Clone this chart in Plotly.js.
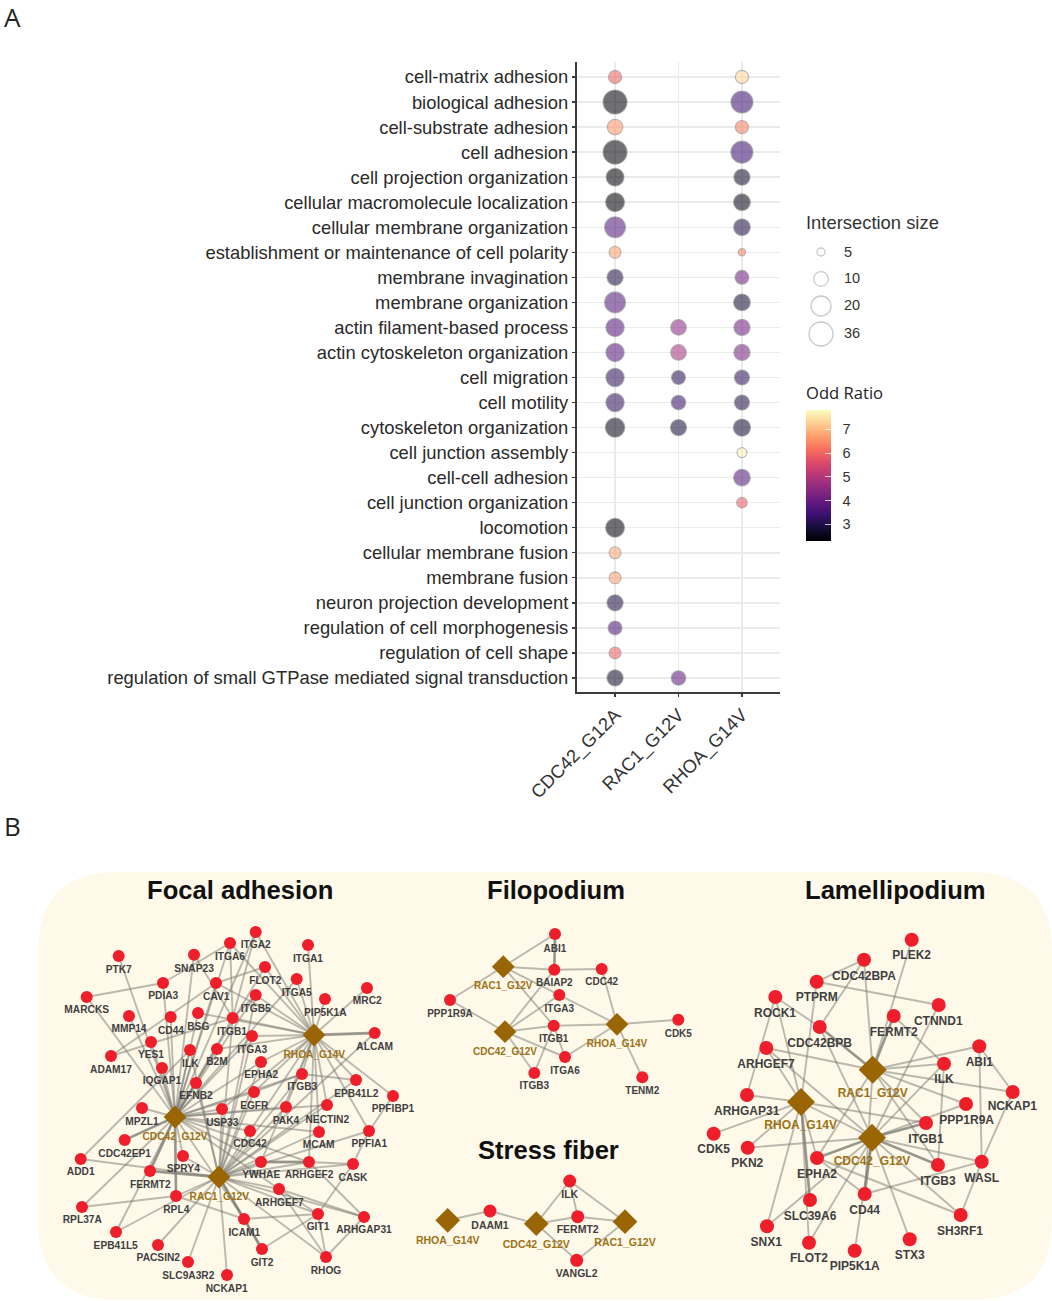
<!DOCTYPE html>
<html>
<head>
<meta charset="utf-8">
<script src="https://cdn.plot.ly/plotly-3.0.1.min.js"></script>
<style>html,body{margin:0;padding:0;background:#fff}#chart{width:1052px;height:1301px}</style>
</head>
<body>
<div id="chart"></div>
<script>
// ---------- Panel A data ----------
const terms = ["cell-matrix adhesion","biological adhesion","cell-substrate adhesion","cell adhesion","cell projection organization","cellular macromolecule localization","cellular membrane organization","establishment or maintenance of cell polarity","membrane invagination","membrane organization","actin filament-based process","actin cytoskeleton organization","cell migration","cell motility","cytoskeleton organization","cell junction assembly","cell-cell adhesion","cell junction organization","locomotion","cellular membrane fusion","membrane fusion","neuron projection development","regulation of cell morphogenesis","regulation of cell shape","regulation of small GTPase mediated signal transduction"];
const conditions = ["CDC42_G12A","RAC1_G12V","RHOA_G14V"];
const cdc42Size = [9,36,12,36,16,18,24,8,13,24,17,17,17,17,19,null,null,null,18,8,8,13,9.5,8,13];
const rac1Size  = [null,null,null,null,null,null,null,null,null,null,12,12,9.5,10,13,null,null,null,null,null,null,null,null,null,10];
const rhoaSize  = [9,28,9,28,13,14,14,4.5,9.5,14,13,13,11,11,15,6.5,14,7,null,null,null,null,null,null,null];
const cdc42Odds = [5.95,2.35,6.6,2.35,2.3,2.3,3.7,6.7,2.95,3.7,3.75,3.75,3.2,3.2,2.5,null,null,null,2.3,6.8,6.7,2.95,3.6,5.95,2.7];
const rac1Odds  = [null,null,null,null,null,null,null,null,null,null,4.5,4.8,3.1,3.3,2.85,null,null,null,null,null,null,null,null,null,3.85];
const rhoaOdds  = [7.4,3.4,6.3,3.4,2.75,2.5,2.95,6.4,4.1,2.8,4.1,4.2,3.2,3.0,2.75,7.7,3.7,5.85,null,null,null,null,null,null,null];
const legendSizes = [5,10,20,36];
const sizeAnchors = [5,10,20,36];
const diameterAnchors = [8,14.6,20,24];
const magma = [[0,"#000004"],[0.1,"#140e36"],[0.2,"#3b0f70"],[0.3,"#641a80"],[0.4,"#8c2981"],[0.5,"#b73779"],[0.6,"#de4968"],[0.7,"#f7705c"],[0.8,"#fe9f6d"],[0.9,"#fecf92"],[1,"#fcfdbf"]];
const oddTicks = [3,4,5,6,7];

// ---------- Panel B data: Focal adhesion ----------
const focalGenes = ["PTK7","SNAP23","MARCKS","PDIA3","CAV1","MMP14","CD44","BSG","YES1","ADAM17","ILK","B2M","IQGAP1","EFNB2","ITGB1","ITGA2","ITGA6","ITGA1","FLOT2","ITGA5","ITGB5","PIP5K1A","MRC2","ALCAM","ITGA3","EPHA2","ITGB3","EPB41L2","PPFIBP1","EGFR","PAK4","NECTIN2","CDC42","MCAM","PPFIA1","YWHAE","ARHGEF2","CASK","ARHGEF7","GIT1","ARHGAP31","ICAM1","GIT2","RHOG","NCKAP1","MPZL1","USP33","CDC42EP1","ADD1","SPRY4","FERMT2","RPL4","RPL37A","EPB41L5","PACSIN2","SLC9A3R2"];
const focalX = [118.7,194,86.7,163,216,129,170.7,198,151,111,190,217,162,196,232.7,255.7,230,308,265,296.7,255.7,325,367,374.7,252,261,302,356,393,254,286,327,250,319,369,261,309,353,279,318,364,244,262,326,227,142,222,124.7,80.7,183,150,176,82,116,158,188];
const focalY = [956,954.7,997,983,983,1016,1017,1013,1042,1056,1050,1049,1068,1083,1018,932,943,945,967,979,995,999,988,1033,1036,1062,1074,1080,1096,1092,1107,1105,1131,1132,1131,1162,1162,1164,1189,1214,1217,1219,1249,1257,1275,1108,1109,1140,1159,1156,1171,1196,1207,1232,1245,1262];
const focalLabelX = [118.7,194,86.7,163.3,216.3,129,171,198.3,151,111,190.3,217,162,196,232,255.7,230,308,265.3,296.7,255.7,325.3,367.3,374.7,252.3,261.3,302.3,356.3,393,254.3,286,327.3,250,318.7,369.3,261.3,309,353,279.3,318,364,244.3,262,326,226.7,142,222.3,124.7,80.7,183.3,150.3,176.3,82.3,115.7,158.3,188.3];
const focalLabelY = [970,969,1010.7,996.7,997.7,1029.7,1031.3,1027,1055.7,1070.3,1064,1062.7,1081.3,1096.7,1032,945.7,957.3,959.3,981,993.3,1009,1013,1001.7,1047.3,1050,1075.7,1087.7,1094,1109.7,1106,1121,1120,1144.3,1145.7,1144.3,1175.3,1175.3,1178,1203.3,1227.3,1230.7,1233.3,1263,1271,1289,1122,1123,1154.3,1172.3,1169.7,1185.3,1210.3,1220.3,1246,1258.7,1276];
const focalHubs = ["CDC42_G12V","RAC1_G12V","RHOA_G14V"];
const focalHubX = [175,219,314];
const focalHubY = [1117,1177,1035];
const focalHubLabelX = [175,219.3,314.3];
const focalHubLabelY = [1137.3,1197,1055.7];
const focalCdc42Links = ["PTK7","MARCKS","MMP14","CD44","BSG","YES1","ILK","B2M","IQGAP1","EFNB2","MPZL1","USP33","EGFR","EPHA2","ITGB1","ITGA3","ITGB5","CAV1","SNAP23","PDIA3","ITGA6","ITGA2","FLOT2","ITGA5","ITGB3","CDC42","PAK4","NECTIN2","MCAM","CDC42EP1","FERMT2","SPRY4","RPL4","RPL37A","EPB41L5","YWHAE","ARHGEF2","ARHGEF7","ICAM1"];
const focalRac1Links = ["ITGB3","EGFR","ITGB1","EPHA2","ITGA3","CDC42","YWHAE","ARHGEF2","ARHGEF7","CASK","GIT1","GIT2","ICAM1","ARHGAP31","RHOG","MCAM","PPFIA1","NECTIN2","PAK4","ITGB5","ILK","SPRY4","ALCAM","EPB41L2","RPL4","FERMT2","ADD1","EPB41L5","PACSIN2","SLC9A3R2","NCKAP1","USP33","EFNB2"];
const focalRhoaLinks = ["MRC2","ALCAM","PIP5K1A","ITGA1","ITGA5","FLOT2","ITGB5","ITGA3","ITGB1","EPHA2","ITGB3","EPB41L2","PPFIBP1","EGFR","PAK4","NECTIN2","MCAM","ITGA6","ITGA2","CAV1","BSG","B2M","YWHAE","ARHGEF2","CDC42","USP33","PPFIA1"];
const focalGeneLinks = [["MARCKS","PDIA3"],["PDIA3","ITGA6"],["ADD1","ILK"],["ADAM17","CAV1"],["ADAM17","ITGB1"],["RPL37A","RPL4"],["RPL4","ICAM1"],["ICAM1","GIT2"],["ICAM1","GIT1"],["GIT1","GIT2"],["GIT1","RHOG"],["ARHGAP31","RHOG"],["ARHGEF7","RHOG"],["ARHGEF7","GIT1"],["ARHGEF7","ARHGAP31"],["YWHAE","ARHGEF2"],["ARHGEF2","CASK"],["CASK","GIT1"],["CASK","PPFIA1"],["PPFIA1","PPFIBP1"],["ARHGEF2","ARHGAP31"],["ITGB3","EPB41L2"],["EGFR","ITGB3"],["ITGB1","ITGB5"],["ITGA6","ITGB1"],["ITGA2","ITGB1"],["CAV1","FLOT2"],["SNAP23","ITGB1"]];
const focalHeavy = [["RAC1_G12V","ICAM1"],["RAC1_G12V","FERMT2"],["CDC42_G12V","FERMT2"],["CDC42_G12V","RPL4"],["RHOA_G14V","ALCAM"],["ICAM1","GIT2"],["CDC42_G12V","CDC42EP1"],["YWHAE","ARHGEF2"]];

// ---------- Filopodium ----------
const filoGenes = ["ABI1","BAIAP2","CDC42","ITGA3","PPP1R9A","ITGB1","ITGA6","ITGB3","CDK5","TENM2"];
const filoX = [555,554.3,601.7,559.3,450,553.7,565,534.3,678.3,642.3];
const filoY = [934,969.7,969,995,1000,1025.7,1057,1073,1019.7,1077.3];
const filoLabelX = [555,554.3,601.7,559.3,450,553.7,565,534.3,678.3,642.3];
const filoLabelY = [949,983.3,982.7,1009.3,1014.7,1039.3,1071.7,1086.7,1034,1091.7];
const filoHubs = ["RAC1_G12V","CDC42_G12V","RHOA_G14V"];
const filoHubX = [503.3,505,617];
const filoHubY = [966.7,1031.7,1024.3];
const filoHubLabelX = [503.3,505,617];
const filoHubLabelY = [986.7,1052,1044.7];
const filoLinks = [["RAC1_G12V","ABI1"],["RAC1_G12V","BAIAP2"],["RAC1_G12V","ITGA3"],["RAC1_G12V","ITGB1"],["RAC1_G12V","PPP1R9A"],["ABI1","BAIAP2"],["BAIAP2","CDC42"],["BAIAP2","CDC42_G12V"],["CDC42","RHOA_G14V"],["ITGA3","RHOA_G14V"],["ITGA3","CDC42_G12V"],["ITGB1","CDC42_G12V"],["ITGB1","RHOA_G14V"],["ITGA6","CDC42_G12V"],["ITGA6","RHOA_G14V"],["ITGB1","ITGA6"],["CDC42_G12V","ITGB3"],["ITGB3","ITGB1"],["PPP1R9A","CDC42_G12V"],["CDK5","RHOA_G14V"],["TENM2","RHOA_G14V"]];
const filoHeavy = [["ABI1","BAIAP2"]];

// ---------- Stress fiber ----------
const stressGenes = ["ILK","DAAM1","FERMT2","VANGL2"];
const stressX = [569.7,490,577.7,576.7];
const stressY = [1181,1211,1216.7,1260.3];
const stressLabelX = [569.7,490,577.7,576.7];
const stressLabelY = [1195.7,1226,1230.7,1274.7];
const stressHubs = ["RHOA_G14V","CDC42_G12V","RAC1_G12V"];
const stressHubX = [447.7,536.3,625];
const stressHubY = [1220.3,1223.7,1221.7];
const stressHubLabelX = [447.7,536.3,625];
const stressHubLabelY = [1241.7,1245,1243.7];
const stressLinks = [["RHOA_G14V","DAAM1"],["DAAM1","CDC42_G12V"],["CDC42_G12V","ILK"],["CDC42_G12V","FERMT2"],["CDC42_G12V","VANGL2"],["ILK","FERMT2"],["ILK","RAC1_G12V"],["FERMT2","RAC1_G12V"],["VANGL2","RAC1_G12V"]];

// ---------- Lamellipodium ----------
const lamGenes = ["PLEK2","CDC42BPA","PTPRM","ROCK1","CTNND1","FERMT2","CDC42BPB","ARHGEF7","ABI1","ILK","NCKAP1","ARHGAP31","PPP1R9A","CDK5","PKN2","ITGB1","EPHA2","ITGB3","WASL","CD44","SLC39A6","SH3RF1","SNX1","STX3","FLOT2","PIP5K1A"];
const lamX = [911.7,864,816.7,775.3,938.7,893.7,819.7,766.3,979.3,944,1012.7,747,966,713.7,747.7,926,817,938,981.7,864.7,810,960.7,767,909.7,809,854.7];
const lamY = [939.7,959.7,981.7,997,1005,1016,1027,1048,1046.3,1063.7,1092,1095,1104,1133.7,1147.7,1123,1158,1165,1161.7,1194,1200,1215,1226.3,1239.3,1242.7,1250.7];
const lamLabelX = [911.7,864,816.7,775,938.3,893.7,819.7,766,979.3,944,1012.3,746.7,966.7,713.7,747.3,926,817,938,981.7,864.7,810,960,766.3,909.7,809,854.7];
const lamLabelY = [956,976.7,998.3,1013.7,1021.7,1032.7,1044,1065,1063.3,1080.3,1106.7,1112,1120.7,1150.3,1164.3,1140,1174.7,1181.7,1178.7,1210.7,1217.3,1232,1243.3,1256,1259.3,1267.3];
const lamHubs = ["RAC1_G12V","RHOA_G14V","CDC42_G12V"];
const lamHubX = [872.7,801,872];
const lamHubY = [1069.7,1102,1137.7];
const lamHubLabelX = [872.7,800.7,872];
const lamHubLabelY = [1093.7,1126,1162];
const lamLinks = [["RAC1_G12V","CDC42BPA"],["RAC1_G12V","PLEK2"],["RAC1_G12V","FERMT2"],["RAC1_G12V","ABI1"],["RAC1_G12V","ILK"],["RAC1_G12V","NCKAP1"],["RAC1_G12V","ARHGEF7"],["RAC1_G12V","CDC42BPB"],["RAC1_G12V","PPP1R9A"],["RAC1_G12V","ITGB1"],["RAC1_G12V","EPHA2"],["RAC1_G12V","ITGB3"],["RAC1_G12V","CD44"],["CDC42BPA","CDC42BPB"],["CDC42BPA","PTPRM"],["PTPRM","CTNND1"],["PTPRM","RHOA_G14V"],["ROCK1","ARHGAP31"],["ROCK1","RHOA_G14V"],["ROCK1","CDC42BPB"],["ARHGEF7","CDC42_G12V"],["ARHGEF7","RHOA_G14V"],["CDC42BPB","CDC42_G12V"],["FERMT2","ILK"],["CTNND1","CDC42_G12V"],["ABI1","NCKAP1"],["ABI1","WASL"],["ILK","CDC42_G12V"],["ILK","ITGB3"],["NCKAP1","WASL"],["PPP1R9A","CDC42_G12V"],["ITGB1","CDC42_G12V"],["ITGB1","RHOA_G14V"],["ARHGAP31","RHOA_G14V"],["CDK5","RHOA_G14V"],["PKN2","RHOA_G14V"],["PKN2","CDC42_G12V"],["SNX1","RHOA_G14V"],["SLC39A6","RHOA_G14V"],["FLOT2","RHOA_G14V"],["EPHA2","RHOA_G14V"],["EPHA2","CDC42_G12V"],["CD44","CDC42_G12V"],["CD44","EPHA2"],["CD44","WASL"],["FLOT2","CDC42_G12V"],["SNX1","CDC42_G12V"],["PIP5K1A","CDC42_G12V"],["STX3","CDC42_G12V"],["SH3RF1","CDC42_G12V"],["SH3RF1","WASL"],["ITGB3","CDC42_G12V"],["WASL","CDC42_G12V"],["SH3RF1","EPHA2"],["RHOA_G14V","CDC42_G12V"]];
const lamHeavy = [["RAC1_G12V","CDC42BPB"],["RAC1_G12V","FERMT2"],["EPHA2","CDC42_G12V"],["ITGB3","CDC42_G12V"],["ITGB1","CDC42_G12V"],["CD44","CDC42_G12V"],["SLC39A6","RHOA_G14V"]];

// ---------- Build ----------
const W = 1052, H = 1301;
const HUB = "#9a6505", RED = "#ee1f2a", EDGE = "rgba(125,125,117,0.52)", EDGE2 = "rgba(125,125,117,0.6)";
const LABEL_FONT = "Liberation Sans, Arial, sans-serif";

function sizeToDiameter(v){
  for(let i=1;i<sizeAnchors.length;i++){
    if(v<=sizeAnchors[i]){
      const t=(v-sizeAnchors[i-1])/(sizeAnchors[i]-sizeAnchors[i-1]);
      return diameterAnchors[i-1]+t*(diameterAnchors[i]-diameterAnchors[i-1]);
    }
  }
  return diameterAnchors[diameterAnchors.length-1];
}
function columnTrace(cond,sizes,odds){
  const keep = terms.map((_,i)=>i).filter(i=>sizes[i]!==null);
  return {type:"scatter",mode:"markers",xaxis:"x",yaxis:"y",
    x:keep.map(()=>cond),y:keep.map(i=>terms[i]),cliponaxis:false,
    marker:{size:keep.map(i=>sizeToDiameter(sizes[i])),sizemode:"diameter",color:keep.map(i=>odds[i]),coloraxis:"coloraxis",opacity:0.56,line:{color:"rgba(90,90,90,0.7)",width:1.1}}};
}
function networkTraces(cfg){
  const pos = {};
  cfg.genes.forEach((g,i)=>pos[g]=[cfg.x[i],cfg.y[i]]);
  cfg.hubs.forEach((g,i)=>pos[g]=[cfg.hubX[i],cfg.hubY[i]]);
  const seg = list => {const xs=[],ys=[];list.forEach(([a,b])=>{xs.push(pos[a][0],pos[b][0],null);ys.push(pos[a][1],pos[b][1],null);});return [xs,ys];};
  const [ex,ey]=seg(cfg.links), [hx,hy]=seg(cfg.heavy||[]);
  const base={type:"scatter",xaxis:"x2",yaxis:"y2",cliponaxis:false};
  return [
    {...base,mode:"lines",x:ex,y:ey,line:{color:EDGE,width:1.9}},
    {...base,mode:"lines",x:hx,y:hy,line:{color:EDGE2,width:2.8}},
    {...base,mode:"markers",x:cfg.x,y:cfg.y,marker:{symbol:"circle",size:cfg.nodeSize,color:RED}},
    {...base,mode:"markers",x:cfg.hubX,y:cfg.hubY,marker:{symbol:"diamond",size:cfg.hubSize,color:HUB}},
    {...base,mode:"text",x:cfg.labelX,y:cfg.labelY,text:cfg.genes,textposition:"middle center",textfont:{family:LABEL_FONT,size:cfg.font,color:"#3f3f3f",weight:700}},
    {...base,mode:"text",x:cfg.hubLabelX,y:cfg.hubLabelY,text:cfg.hubs,textposition:"middle center",textfont:{family:LABEL_FONT,size:cfg.font,color:"#9c7216",weight:700}}
  ];
}
function hubLinks(hub,list){return list.map(g=>[hub,g]);}

const traces = [
  columnTrace(conditions[0],cdc42Size,cdc42Odds),
  columnTrace(conditions[1],rac1Size,rac1Odds),
  columnTrace(conditions[2],rhoaSize,rhoaOdds),
  {type:"scatter",mode:"markers",xaxis:"x2",yaxis:"y2",x:[821,821,821,821],y:[252,279,306,334],
    marker:{size:legendSizes.map(sizeToDiameter),color:"rgba(255,255,255,0)",line:{color:"#b5b5b5",width:1.3}}},
  {type:"scatter",mode:"text",xaxis:"x2",yaxis:"y2",x:[844,844,844,844],y:[253,279.5,306,334],text:legendSizes.map(String),textposition:"middle right",textfont:{family:LABEL_FONT,size:14.5,color:"#333"},cliponaxis:false},
  ...networkTraces({genes:focalGenes,x:focalX,y:focalY,labelX:focalLabelX,labelY:focalLabelY,hubs:focalHubs,hubX:focalHubX,hubY:focalHubY,hubLabelX:focalHubLabelX,hubLabelY:focalHubLabelY,
    links:[...hubLinks("CDC42_G12V",focalCdc42Links),...hubLinks("RAC1_G12V",focalRac1Links),...hubLinks("RHOA_G14V",focalRhoaLinks),...focalGeneLinks],heavy:focalHeavy,nodeSize:12,hubSize:17.5,font:10.2}),
  ...networkTraces({genes:filoGenes,x:filoX,y:filoY,labelX:filoLabelX,labelY:filoLabelY,hubs:filoHubs,hubX:filoHubX,hubY:filoHubY,hubLabelX:filoHubLabelX,hubLabelY:filoHubLabelY,
    links:filoLinks,heavy:filoHeavy,nodeSize:12,hubSize:17.5,font:10}),
  ...networkTraces({genes:stressGenes,x:stressX,y:stressY,labelX:stressLabelX,labelY:stressLabelY,hubs:stressHubs,hubX:stressHubX,hubY:stressHubY,hubLabelX:stressHubLabelX,hubLabelY:stressHubLabelY,
    links:stressLinks,heavy:[],nodeSize:13,hubSize:19,font:10.5}),
  ...networkTraces({genes:lamGenes,x:lamX,y:lamY,labelX:lamLabelX,labelY:lamLabelY,hubs:lamHubs,hubX:lamHubX,hubY:lamHubY,hubLabelX:lamHubLabelX,hubLabelY:lamHubLabelY,
    links:lamLinks,heavy:lamHeavy,nodeSize:14,hubSize:21.5,font:12})
];

function note(text,x,y,font,anchor){
  return {text:text,x:x,y:y,xref:"x2",yref:"y2",showarrow:false,xanchor:anchor||"center",yanchor:"middle",font:font};
}
const layout = {
  width:W,height:H,autosize:false,showlegend:false,hovermode:false,
  margin:{l:0,r:0,t:0,b:0,pad:0},paper_bgcolor:"#fff",plot_bgcolor:"rgba(0,0,0,0)",
  font:{family:LABEL_FONT,color:"#333"},
  xaxis:{domain:[577/W,780/W],anchor:"y",type:"category",categoryorder:"array",categoryarray:conditions,range:[-0.6,2.6],
    showgrid:true,gridcolor:"#ebebeb",gridwidth:1.5,zeroline:false,showline:true,linecolor:"#3c3c3c",linewidth:2,
    ticks:"outside",ticklen:3,tickwidth:1.3,tickcolor:"#3c3c3c",tickangle:-45,tickfont:{size:18.4,color:"#333",family:LABEL_FONT}},
  yaxis:{domain:[1-692/H,1-62/H],anchor:"x",type:"category",categoryorder:"array",categoryarray:terms,range:[24.56,-0.6],
    showgrid:true,gridcolor:"#ebebeb",gridwidth:1.5,zeroline:false,showline:true,linecolor:"#3c3c3c",linewidth:2,
    ticks:"outside",ticklen:3,tickwidth:1.3,tickcolor:"#3c3c3c",tickfont:{size:18.4,color:"#2a2a2a",family:LABEL_FONT}},
  xaxis2:{domain:[0,1],anchor:"y2",range:[0,W],visible:false,fixedrange:true},
  yaxis2:{domain:[0,1],anchor:"x2",range:[H,0],visible:false,fixedrange:true},
  coloraxis:{colorscale:magma,cmin:2.29,cmax:7.82,
    colorbar:{thickness:25,thicknessmode:"pixels",len:131,lenmode:"pixels",x:806/W,xanchor:"left",xpad:0,
      y:1-541/H,yanchor:"bottom",ypad:0,outlinewidth:0,ticks:"inside",ticklen:6,tickcolor:"rgba(255,255,255,0.75)",tickwidth:1,
      tickvals:oddTicks,ticktext:oddTicks.map(v=>"\u00a0\u00a0"+v),tickfont:{family:LABEL_FONT,size:14.5,color:"#333"}}},
  shapes:[{type:"path",xref:"x2",yref:"y2",layer:"below",line:{width:0},fillcolor:"#fff9ea",
    path:"M 118 872 L 972 872 Q 1052 872 1052 952 L 1052 1220 Q 1052 1300 972 1300 L 118 1300 Q 38 1300 38 1220 L 38 952 Q 38 872 118 872 Z"}],
  annotations:[
    note("A",12,17,{family:"Open Sans, sans-serif",size:26,color:"#222"}),
    note("B",12,826,{family:"Open Sans, sans-serif",size:26,color:"#222"}),
    note("Intersection size",804,222,{family:LABEL_FONT,size:18.4,color:"#333"},"left"),
    note("Odd Ratio",804,392,{family:"Open Sans, sans-serif",size:16.6,color:"#222"},"left"),
    note("<b>Focal adhesion</b>",240,890,{family:LABEL_FONT,size:25.6,color:"#111"}),
    note("<b>Filopodium</b>",556,890,{family:LABEL_FONT,size:25.6,color:"#111"}),
    note("<b>Lamellipodium</b>",895,890,{family:LABEL_FONT,size:25.6,color:"#111"}),
    note("<b>Stress fiber</b>",548,1150,{family:LABEL_FONT,size:25.6,color:"#111"})
  ]
};
Plotly.newPlot("chart",traces,layout,{staticPlot:true,displayModeBar:false});
</script>
</body>
</html>
